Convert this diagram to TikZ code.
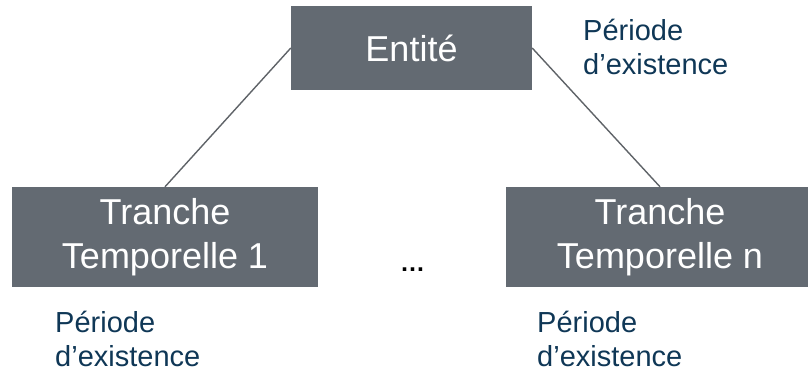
\documentclass[tikz,border=0pt]{standalone}
\usepackage{fontspec}
\setmainfont{Liberation Sans}
\definecolor{boxgray}{HTML}{636A72}
\definecolor{linkgray}{HTML}{5F6368}
\definecolor{labelblue}{HTML}{0F3756}
\tikzset{
  entitybox/.style={rectangle, fill=boxgray, text=white, inner sep=0pt,
    align=center, font=\fontsize{36}{44}\selectfont},
  periodlabel/.style={anchor=north west, inner sep=0pt, align=left,
    text=labelblue, font=\fontsize{29}{34}\selectfont},
  link/.style={draw=linkgray, line width=1.4pt}
}
\begin{document}
\begin{tikzpicture}[x=1pt, y=-1pt]
  \useasboundingbox (0,0) rectangle (808,373);
  \clip (0,0) rectangle (808,373);

  % entity and its time slices
  \node[entitybox, minimum width=241pt, minimum height=84pt] (ent) at (411.5,48) {Entité};
  \node[entitybox, minimum width=306pt, minimum height=100pt] (t1) at (165,237) {Tranche\\Temporelle 1};
  \node[entitybox, minimum width=308pt, minimum height=100pt] (tn) at (660,237) {Tranche\\Temporelle n};

  % connectors
  \draw[link] (ent.west) -- (t1.north);
  \draw[link] (ent.east) -- (tn.north);

  % ellipsis between the slices
  \node[anchor=base, inner sep=0pt, font=\fontsize{25}{28}\bfseries] (dots) at (412.5,271) {\textellipsis};

  % existence periods
  \node[periodlabel] (pent) at (583,19) {Période\\d’existence};
  \node[periodlabel] (p1) at (55,311) {Période\\d’existence};
  \node[periodlabel] (pn) at (537,311) {Période\\d’existence};
\end{tikzpicture}
\end{document}
